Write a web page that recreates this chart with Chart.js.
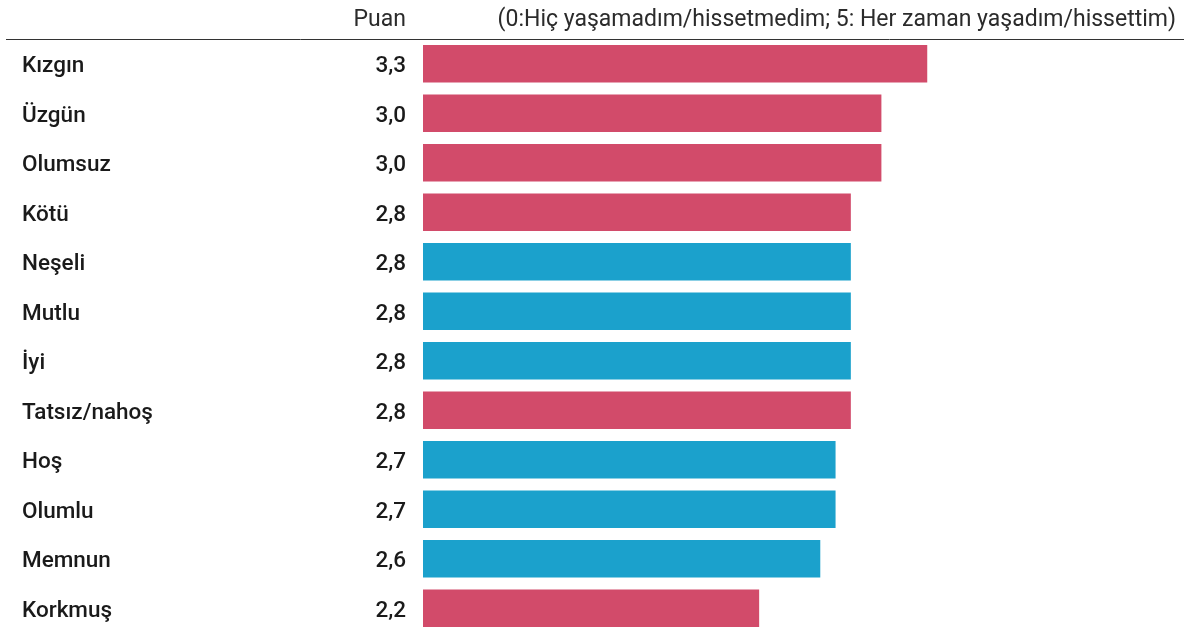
<!DOCTYPE html>
<html>
<head>
<meta charset="utf-8">
<script src="https://cdn.jsdelivr.net/npm/chart.js@4.4.1/dist/chart.umd.min.js"></script>
<style>
  html, body { margin: 0; padding: 0; background: #fff; overflow: hidden; }
  #wrap { width: 1184px; height: 628px; overflow: hidden; position: relative; }
  #box { width: 1187px; height: 633px; position: absolute; left: 0; top: 0; }
</style>
</head>
<body>
<div id="wrap"><div id="box"><canvas id="chart"></canvas></div></div>
<script>
const categories = ["Kızgın", "Üzgün", "Olumsuz", "Kötü", "Neşeli", "Mutlu", "İyi",
  "Tatsız/nahoş", "Hoş", "Olumlu", "Memnun", "Korkmuş"];
const scores = [3.3, 3.0, 3.0, 2.8, 2.8, 2.8, 2.8, 2.8, 2.7, 2.7, 2.6, 2.2];
// n = olumsuz duygu, p = olumlu duygu
const kinds = ["n", "n", "n", "n", "p", "p", "p", "n", "p", "p", "p", "n"];
const scaleLabel = "Puan";
const scaleNote = "(0:Hiç yaşamadım/hissetmedim; 5: Her zaman yaşadım/hissettim)";

const RED = "#d24b6a";
const BLUE = "#1ba1cc";
const FONT = "Roboto, 'Open Sans', sans-serif";

const headerPlugin = {
  id: "header",
  afterDraw(chart) {
    const ctx = chart.ctx;
    const area = chart.chartArea;
    ctx.save();
    ctx.font = `400 23px ${FONT}`;
    ctx.fillStyle = "#2b2b2b";
    ctx.textBaseline = "alphabetic";
    ctx.textAlign = "right";
    ctx.fillText(scaleLabel, area.left - 17, 26);
    ctx.fillText(scaleNote, 1176, 26);
    ctx.strokeStyle = "#333";
    ctx.lineWidth = 1;
    ctx.beginPath();
    ctx.moveTo(6, 39.5);
    ctx.lineTo(1184, 39.5);
    ctx.stroke();
    ctx.restore();
  }
};

// category names on the left, scores right-aligned before the bars
const rowTextPlugin = {
  id: "rowText",
  afterDatasetsDraw(chart) {
    const ctx = chart.ctx;
    const y = chart.scales.y;
    const x0 = chart.chartArea.left - 17;
    ctx.save();
    ctx.font = `500 22.5px ${FONT}`;
    ctx.fillStyle = "#1a1a1a";
    ctx.textBaseline = "middle";
    categories.forEach((c, i) => {
      const py = y.getPixelForValue(i) + 3;
      ctx.textAlign = "left";
      ctx.fillText(c, 22, py);
      ctx.textAlign = "right";
      ctx.fillText(scores[i].toFixed(1).replace(".", ","), x0, py);
    });
    ctx.restore();
  }
};

new Chart(document.getElementById("chart"), {
  type: "bar",
  data: {
    labels: categories,
    datasets: [{
      data: scores,
      backgroundColor: kinds.map(k => k === "n" ? RED : BLUE),
      barPercentage: 0.762,
      categoryPercentage: 1
    }]
  },
  options: {
    indexAxis: "y",
    responsive: true,
    maintainAspectRatio: false,
    animation: false,
    layout: { padding: { top: 39, left: 0, right: 0, bottom: 0 } },
    plugins: { legend: { display: false }, tooltip: { enabled: false } },
    scales: {
      x: { display: false, min: 0, max: 5 },
      y: {
        grid: { display: false },
        border: { display: false },
        ticks: { display: false },
        afterFit(scale) { scale.width = 423; }
      }
    }
  },
  plugins: [headerPlugin, rowTextPlugin]
});
</script>
</body>
</html>
